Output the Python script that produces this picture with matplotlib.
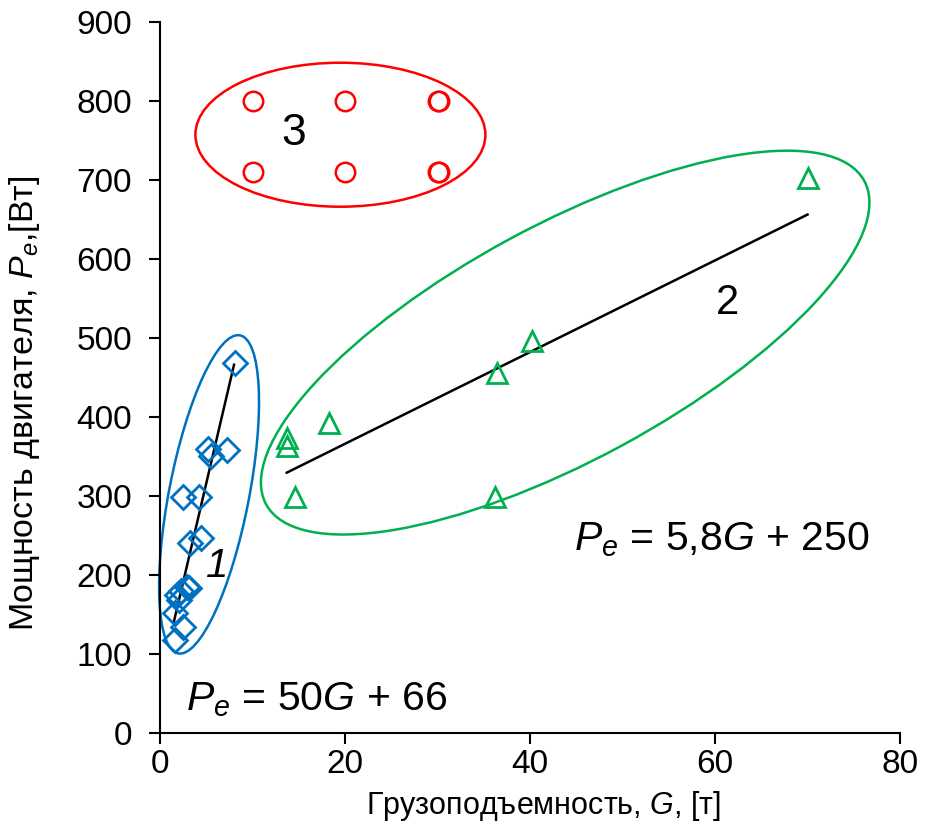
import numpy as np
import matplotlib
matplotlib.use('Agg')
import matplotlib.pyplot as plt
from matplotlib.patches import Ellipse
from matplotlib.transforms import ScaledTranslation

plt.rcParams['font.family'] = ['Liberation Sans', 'DejaVu Sans']
plt.rcParams['mathtext.fontset'] = 'custom'
plt.rcParams['mathtext.it'] = 'Liberation Sans:italic'
plt.rcParams['mathtext.rm'] = 'Liberation Sans'

# group 1 (blue diamonds)
g1_x = [8.1, 5.2, 5.5, 7.2, 2.5, 4.2, 3.2, 4.4, 2.9, 1.8, 2.3, 3.1, 2.0, 1.6, 2.5, 1.6]
g1_y = [468, 360, 351, 358, 299, 299, 240, 247, 185, 175, 180, 183, 168, 152, 134, 118]
# group 2 (green triangles)
g2_x = [70.0, 40.2, 36.4, 18.3, 13.7, 13.7, 14.6, 36.2]
g2_y = [702, 496, 456, 392, 373, 363, 299, 299]
# group 3 (red circles)
g3_x = [10, 20, 30, 30.2, 10, 20, 30, 30.2]
g3_y = [800, 800, 800, 800, 710, 710, 710, 710]

# trend lines
fit1_x = np.array([1.5, 8.0])
fit1_y = 50 * fit1_x + 66
fit2_x = np.array([13.7, 70.0])
fit2_y = 5.8 * fit2_x + 250

blue = '#0070C0'
green = '#00B050'
red = '#FF0000'

fig = plt.figure(figsize=(9.25, 8.34), dpi=100)
ax = fig.add_axes([0.173, 0.121, 0.8, 0.853])

ax.plot(fit1_x, fit1_y, color='black', lw=1.8, zorder=2)
ax.plot(fit2_x, fit2_y, color='black', lw=1.8, zorder=2)

ax.plot(g1_x, g1_y, 'D', ms=12, mfc='none', mec=blue, mew=2, zorder=3)
ax.plot(g2_x, g2_y, '^', ms=14, mfc='none', mec=green, mew=2, zorder=3)
ax.plot(g3_x, g3_y, 'o', ms=14, mfc='none', mec=red, mew=1.8, zorder=3)


def ring(x, y, w_px, h_px, angle, color):
    # ellipse sized in pixels, centred on a data point
    tr = fig.dpi_scale_trans + ScaledTranslation(x, y, ax.transData)
    e = Ellipse((0, 0), w_px / 100, h_px / 100, angle=angle, transform=tr,
                fill=False, edgecolor=color, lw=1.8, clip_on=False)
    ax.add_patch(e)


ring(5.3, 302, 80, 324, -11, blue)
ring(43.8, 494, 680, 235, 28.4, green)
ring(19.5, 757, 290, 144, 0, red)

ax.text(14.5, 759, '3', fontsize=32, ha='center', va='center')
ax.text(6.2, 211, '1', fontsize=29, style='italic', ha='center', va='center')
ax.text(61.3, 544, '2', fontsize=30, ha='center', va='center')

ax.text(44.7, 231, r'$P_e$ = 5,8$G$ + 250', fontsize=29.5, ha='left', va='baseline')
ax.text(2.8, 29, r'$P_e$ = 50$G$ + 66', fontsize=29.5, ha='left', va='baseline')

ax.set_xlim(0, 80)
ax.set_ylim(0, 900)
ax.set_xticks([0, 20, 40, 60, 80])
ax.set_yticks(range(0, 901, 100))
ax.spines['top'].set_visible(False)
ax.spines['right'].set_visible(False)
for s in ['left', 'bottom']:
    ax.spines[s].set_linewidth(1.5)
ax.tick_params(direction='out', length=8, width=1.5, labelsize=24)
ax.tick_params(axis='y', pad=12)

ax.set_xlabel(r'Грузоподъемность, $G$, [т]', fontsize=22)
ax.set_ylabel(r'Мощность двигателя, $P_e$,[Вт]', fontsize=24.5)
ax.xaxis.set_label_coords(0.518, -0.078)
ax.yaxis.set_label_coords(-0.16, 0.464)

fig.savefig('out.png', dpi=100)
